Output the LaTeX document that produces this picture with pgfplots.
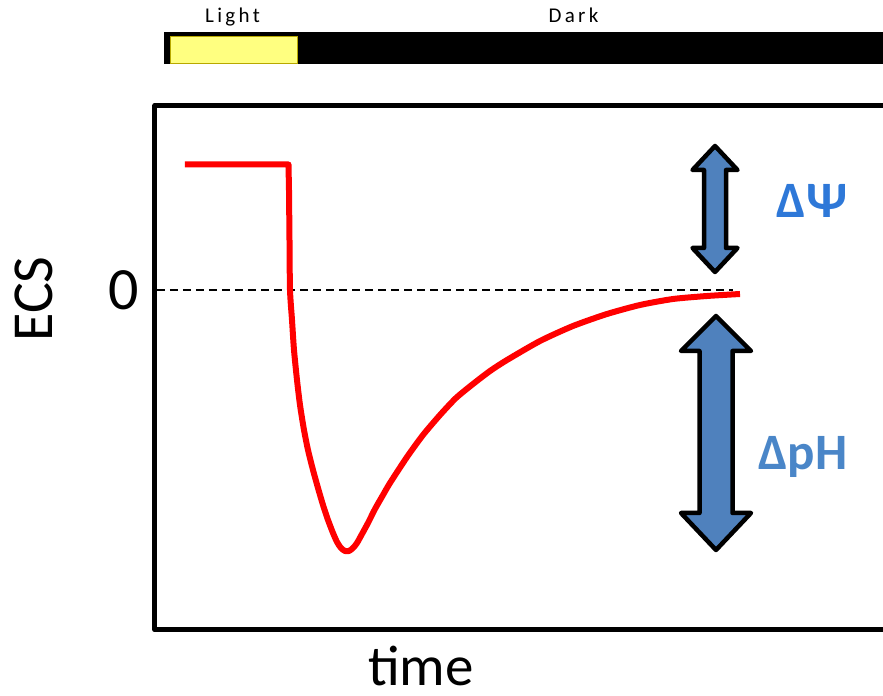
\documentclass[border=0pt]{standalone}
\usepackage{fontspec}
\setmainfont{Carlito}
\newfontfamily\spaced[LetterSpace=16]{Carlito}
\usepackage{pgfplots}
\pgfplotsset{compat=1.18}
\definecolor{arrowblue}{HTML}{4F81BD}
\definecolor{psiblue}{HTML}{2E78D8}
\definecolor{phblue}{HTML}{4A86C8}
\definecolor{lightyel}{HTML}{FFFF80}
\definecolor{yelborder}{HTML}{B8A800}
\begin{document}
\begin{tikzpicture}
\begin{axis}[
  x=1bp, y=1bp,
  xmin=155, xmax=883, ymin=-340, ymax=185,
  clip=false,
  axis line style={draw=none},
  xtick=\empty, ytick={0}, yticklabels={0},
  major tick length=0pt,
  tick style={draw=none},
  yticklabel style={font=\fontsize{60bp}{60bp}\selectfont, inner sep=0pt, xshift=-16bp},
]
% frame (left, top, bottom)
\draw[line width=5bp, line join=round] (axis cs:883,184.5) -- (axis cs:155,184.5) -- (axis cs:155,-340) -- (axis cs:883,-340);
% light/dark bar
\fill[black] (axis cs:164,258) rectangle (axis cs:883,226);
\draw[fill=lightyel, draw=yelborder, line width=0.8bp] (axis cs:170,254) rectangle (axis cs:297,227);
\node[anchor=base] at (axis cs:232.5,267) {\spaced\fontsize{21bp}{21bp}\selectfont Light};
\node[anchor=base] at (axis cs:573.5,267) {\spaced\fontsize{21bp}{21bp}\selectfont Dark};
% zero line
\addplot[black, line width=1.8bp, dash pattern=on 8bp off 5bp] coordinates {(157,0) (733,0)};
% ECS trace
\addplot[red, line width=6bp, line join=round] coordinates {(185,125.5) (288.5,125.5) (289,100)};
\addplot[red, line width=6bp, line join=round, smooth, tension=0.4] coordinates {
 (289,100) (289.5,50) (290,0) (292,-30) (294,-60) (297,-90) (300,-115) (304,-140) (308,-160)
 (313,-180) (318,-198) (323,-215) (328,-230) (333,-243) (337,-252) (341,-258) (345,-261)
 (349,-261) (353,-258) (357,-253) (362,-244) (368,-233) (375,-219) (383,-205) (390,-193)
 (407,-167) (423,-145) (440,-125) (456,-108) (473,-94) (490,-81) (507,-70) (540,-51)
 (573,-36) (607,-24) (640,-15) (673,-9) (707,-6) (740,-4)};
% arrows
\draw[fill=arrowblue, draw=black, line width=4.5bp, line join=round]
 (axis cs:715,144) -- (axis cs:737.5,120) -- (axis cs:726,120) -- (axis cs:726,42) -- (axis cs:737.5,42)
 -- (axis cs:715,18) -- (axis cs:692.5,42) -- (axis cs:704,42) -- (axis cs:704,120) -- (axis cs:692.5,120) -- cycle;
\draw[fill=arrowblue, draw=black, line width=4.5bp, line join=round]
 (axis cs:716,-26) -- (axis cs:751,-61) -- (axis cs:732.5,-61) -- (axis cs:732.5,-223) -- (axis cs:751,-223)
 -- (axis cs:716,-260) -- (axis cs:681,-223) -- (axis cs:699.5,-223) -- (axis cs:699.5,-61) -- (axis cs:681,-61) -- cycle;
\node[anchor=base, text=psiblue] at (axis cs:812,72) {\fontsize{51bp}{51bp}\selectfont\bfseries ΔΨ};
\node[anchor=base, text=phblue] at (axis cs:803,-180) {\fontsize{51bp}{51bp}\selectfont\bfseries ΔpH};
% axis labels
\node[rotate=90, anchor=center] at (axis cs:34,-9) {\fontsize{58bp}{58bp}\selectfont ECS};
\node[anchor=base, inner sep=0pt] at (axis cs:421,-396) {\fontsize{57bp}{57bp}\selectfont time};
\coordinate (tl) at (axis cs:0,290);
\coordinate (br) at (axis cs:883,-406);
\end{axis}
\pgfresetboundingbox
\path[use as bounding box] (tl) rectangle (br);
\end{tikzpicture}
\end{document}
